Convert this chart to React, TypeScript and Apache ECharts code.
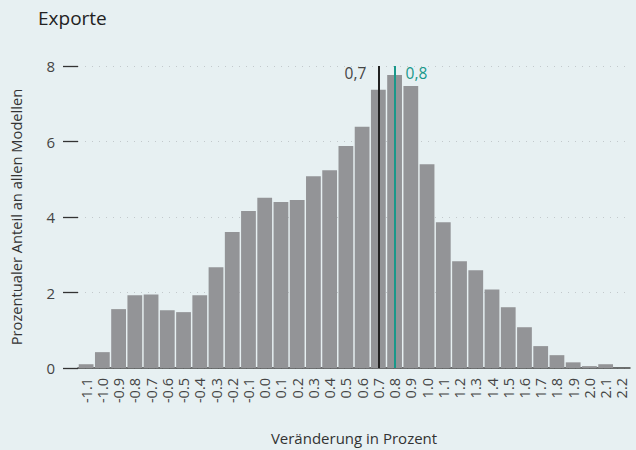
import React, { useEffect, useRef } from "react";
import * as echarts from "echarts";

const categories: string[] = [
  "-1.1", "-1.0", "-0.9", "-0.8", "-0.7", "-0.6", "-0.5", "-0.4", "-0.3", "-0.2", "-0.1",
  "0.0", "0.1", "0.2", "0.3", "0.4", "0.5", "0.6", "0.7", "0.8", "0.9",
  "1.0", "1.1", "1.2", "1.3", "1.4", "1.5", "1.6", "1.7", "1.8", "1.9", "2.0", "2.1", "2.2",
];

const shares: number[] = [
  0.1, 0.42, 1.56, 1.93, 1.95, 1.53, 1.48, 1.93, 2.67, 3.6, 4.16,
  4.51, 4.4, 4.45, 5.08, 5.24, 5.88, 6.39, 7.37, 7.76, 7.47,
  5.4, 3.86, 2.83, 2.59, 2.08, 1.61, 1.08, 0.58, 0.34, 0.15, 0.05, 0.1, 0,
];

const yTicks = { min: 0, max: 8, interval: 2 };

const medianCategory = "0.7";
const medianLabel = "0,7";
const meanCategory = "0.8";
const meanLabel = "0,8";

const FONT = "Open Sans";
const BG = "#e7f0f2";
const BAR = "#939497";
const DARK = "#222222";
const TEAL = "#18988a";

export default function App() {
  const ref = useRef<HTMLDivElement>(null);
  useEffect(() => {
    if (!ref.current) return;
    const chart = echarts.init(ref.current, undefined, { renderer: "svg" });
    chart.setOption({
      animation: false,
      backgroundColor: BG,
      textStyle: { fontFamily: FONT },
      title: {
        text: "Exporte",
        left: 33,
        top: 3,
        textStyle: { fontFamily: FONT, fontSize: 19, fontWeight: "normal", color: "#222" },
      },
      grid: { left: 70, right: 6, top: 66, bottom: 82, containLabel: false },
      xAxis: {
        type: "category",
        data: categories,
        name: "Veränderung in Prozent",
        nameLocation: "middle",
        nameGap: 62,
        nameTextStyle: { fontFamily: FONT, fontSize: 15, color: "#333" },
        axisLine: { show: true, lineStyle: { color: "#444", width: 1.5 } },
        axisTick: { show: false },
        axisLabel: {
          rotate: 90,
          interval: 0,
          margin: 10,
          fontFamily: FONT,
          fontSize: 14.5,
          color: "#444",
        },
      },
      yAxis: {
        type: "value",
        min: yTicks.min,
        max: yTicks.max,
        interval: yTicks.interval,
        name: "Prozentualer Anteil an allen Modellen",
        nameLocation: "middle",
        nameGap: 55,
        nameTextStyle: { fontFamily: FONT, fontSize: 14.7, color: "#333" },
        axisLine: { show: false },
        axisTick: { show: true, length: 15, lineStyle: { color: "#333", width: 1.3 } },
        axisLabel: { margin: 23, fontFamily: FONT, fontSize: 15, color: "#444" },
        splitLine: { show: true, lineStyle: { type: [1, 6], color: "#c3c9cc", width: 1 } },
      },
      series: [
        {
          type: "bar",
          data: shares,
          barCategoryGap: "9%",
          itemStyle: { color: BAR },
          z: 2,
          markLine: {
            silent: true,
            symbol: ["none", "none"],
            label: { show: false },
            data: [
              [
                { coord: [medianCategory, yTicks.min], lineStyle: { color: DARK, width: 2, type: "solid" } },
                { coord: [medianCategory, yTicks.max] },
              ],
              [
                { coord: [meanCategory, yTicks.min], lineStyle: { color: TEAL, width: 2, type: "solid" } },
                { coord: [meanCategory, yTicks.max] },
              ],
            ],
          },
          markPoint: {
            silent: true,
            symbol: "circle",
            symbolSize: 0,
            data: [
              {
                coord: [medianCategory, yTicks.max],
                label: {
                  show: true,
                  formatter: medianLabel,
                  position: "left",
                  distance: 12,
                  offset: [0, 7],
                  fontFamily: FONT,
                  fontSize: 15.5,
                  color: "#444",
                },
              },
              {
                coord: [meanCategory, yTicks.max],
                label: {
                  show: true,
                  formatter: meanLabel,
                  position: "right",
                  distance: 11,
                  offset: [0, 7],
                  fontFamily: FONT,
                  fontSize: 15.5,
                  color: TEAL,
                },
              },
            ],
          },
        },
      ],
    });
    return () => chart.dispose();
  }, []);
  return <div ref={ref} style={{ position: "fixed", left: 0, top: 0, width: 636, height: 450 }} />;
}
